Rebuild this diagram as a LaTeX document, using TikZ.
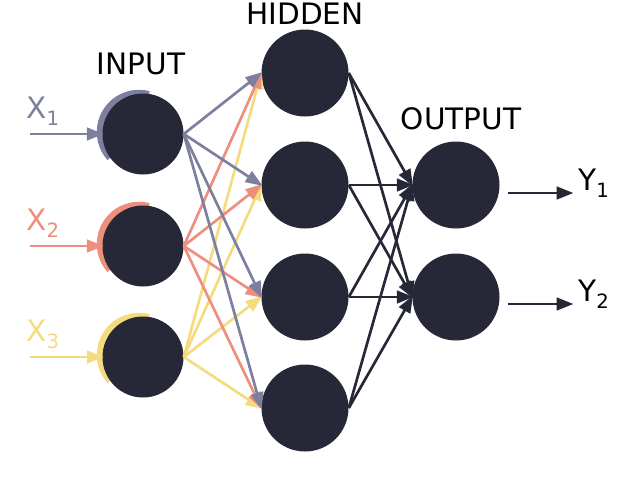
\documentclass[tikz,border=0pt]{standalone}
\usepackage{fontspec}
\setmainfont{DejaVu Sans}
\usetikzlibrary{arrows.meta}
\definecolor{darkNode}{HTML}{262837}
\definecolor{greyBlue}{HTML}{7D7F9E}
\definecolor{salmon}{HTML}{EE8E7C}
\definecolor{sand}{HTML}{F4DC7E}
\newcommand{\sublabel}[2]{#1\raisebox{-0.45ex}{\fontsize{14}{16}\selectfont #2}}
\begin{document}
\begin{tikzpicture}[
        x=0.025cm, y=-0.025cm,
        neuronNode/.style={circle, fill=darkNode, minimum size=81*0.025cm, inner sep=0pt},
        bigNode/.style={circle, fill=darkNode, minimum size=87*0.025cm, inner sep=0pt},
        link/.style={-{Triangle[length=12pt,width=9pt]}, line width=1.9pt, shorten >=-1pt},
        title/.style={font=\fontsize{21}{24}\selectfont},
        ioLabel/.style={font=\fontsize{21}{24}\selectfont}
    ]
        \useasboundingbox (0,0) rectangle (640,481);

        % Input layer
        \foreach \i/\y/\c in {1/134/greyBlue, 2/246/salmon, 3/357/sand} {
            \draw[\c, line width=6pt] (141,\y) ++(-2,-2) ++(-75:38) arc[start angle=-75, end angle=-222, radius=38];
            \node[neuronNode] (in\i) at (143,\y) {};
            \coordinate (src\i) at (30,\y);
            \node[\c, ioLabel, anchor=south west, inner sep=0pt] at (26,\y-8) {\sublabel{X}{\i}};
        }
        \foreach \i/\c in {1/greyBlue, 2/salmon, 3/sand}
            \draw[link, \c] (src\i) -- (in\i.west);

        % Hidden and output layers
        \foreach \i/\y in {1/73, 2/185, 3/297, 4/408}
            \node[bigNode] (hid\i) at (305,\y) {};
        \foreach \i/\y in {1/185, 2/297}
            \node[bigNode] (out\i) at (456,\y) {};

        % Edges
        \foreach \i/\c in {3/sand, 2/salmon, 1/greyBlue}
            \foreach \j in {1,...,4}
                \draw[link, \c] (in\i.east) -- (hid\j.west);
        \foreach \j in {1,...,4}
            \foreach \k in {1,2}
                \draw[link, darkNode] (hid\j.east) -- (out\k.west);

        % Outputs
        \foreach \k/\y in {1/193, 2/304} {
            \coordinate (dst\k) at (572,\y);
            \draw[link, darkNode] (out\k.east |- dst\k) ++(8,0) -- (dst\k);
            \node[ioLabel, anchor=west, inner sep=0pt] at (578,\y-10) {\sublabel{Y}{\k}};
        }

        % Titles
        \node[title] at (141,64) {INPUT};
        \node[title] at (305,14) {HIDDEN};
        \node[title] at (461,119) {OUTPUT};
\end{tikzpicture}
\end{document}
